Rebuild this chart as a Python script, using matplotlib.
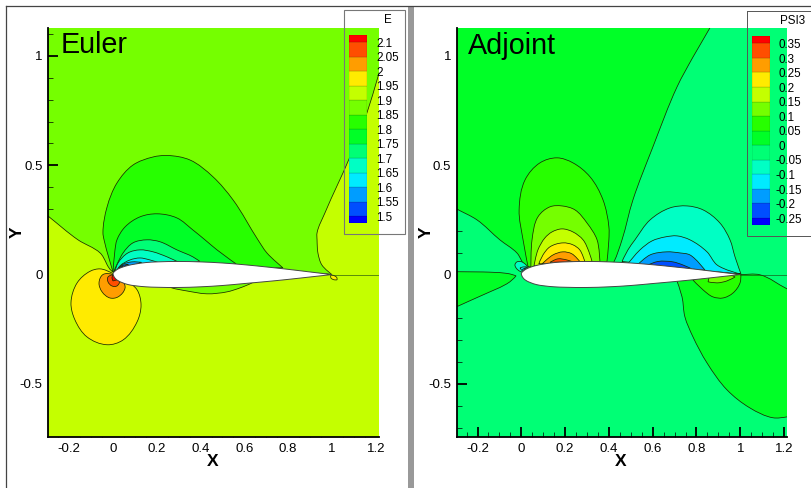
"""Euler and adjoint contour fields around an airfoil, with Tecplot-style legends."""

import matplotlib

matplotlib.use("Agg")
import matplotlib.pyplot as plt
import numpy as np
from matplotlib.colors import BoundaryNorm, ListedColormap
from matplotlib.lines import Line2D
from matplotlib.patches import PathPatch, Rectangle
from matplotlib.path import Path

plt.rcParams["font.family"] = ["Liberation Sans", "DejaVu Sans"]

W, H = 812, 488

BAND_COLORS = ["#0000ff", "#004eff", "#009dff", "#00ebff", "#00ffc4", "#00ff75", "#00ff27",
               "#27ff00", "#75ff00", "#c4ff00", "#ffeb00", "#ff9d00", "#ff4e00", "#ff0000"]

E_LEVELS = [1.5, 1.55, 1.6, 1.65, 1.7, 1.75, 1.8, 1.85, 1.9, 1.95, 2.0, 2.05, 2.1]
E_LABELS = ["1.5", "1.55", "1.6", "1.65", "1.7", "1.75", "1.8", "1.85", "1.9", "1.95", "2", "2.05", "2.1"]
PSI_LEVELS = [-0.25, -0.2, -0.15, -0.1, -0.05, 0.0, 0.05, 0.1, 0.15, 0.2, 0.25, 0.3, 0.35]
PSI_LABELS = ["-0.25", "-0.2", "-0.15", "-0.1", "-0.05", "0", "0.05", "0.1", "0.15", "0.2", "0.25", "0.3", "0.35"]

X_TICKS = [-0.2, 0, 0.2, 0.4, 0.6, 0.8, 1, 1.2]
X_TICK_LABELS = ["-0.2", "0", "0.2", "0.4", "0.6", "0.8", "1", "1.2"]
Y_TICKS = [-0.5, 0, 0.5, 1]
Y_TICK_LABELS = ["-0.5", "0", "0.5", "1"]
X_MINOR = [-0.25, -0.15, -0.1, -0.05, 0.05, 0.1, 0.15, 0.25, 0.3, 0.35, 0.45, 0.5, 0.55, 0.65,
           0.7, 0.75, 0.85, 0.9, 0.95, 1.05, 1.1, 1.15]
Y_MINOR = [-0.7, -0.6, -0.4, -0.3, -0.2, -0.1, 0.1, 0.2, 0.3, 0.4, 0.6, 0.7, 0.8, 0.9, 1.1]

AIRFOIL = [(1.0, 0.0), (0.9, 0.012), (0.8, 0.024), (0.7, 0.035), (0.6, 0.045), (0.5, 0.053), (0.4, 0.058),
           (0.3, 0.06), (0.2, 0.058), (0.15, 0.055), (0.1, 0.048), (0.07, 0.042), (0.04, 0.033), (0.02, 0.024),
           (0.008, 0.015), (0.002, 0.009), (0.0, 0.004), (0.002, -0.004), (0.008, -0.015), (0.02, -0.026),
           (0.04, -0.036), (0.07, -0.046), (0.1, -0.051), (0.15, -0.056), (0.2, -0.058), (0.3, -0.059),
           (0.4, -0.056), (0.5, -0.05), (0.6, -0.041), (0.7, -0.032), (0.8, -0.022), (0.9, -0.011)]
WAKE = [(1.0, 0.0), (1.3, 0.0)]

# Euler contours, outermost first
E_LOWER = [(-0.35, 0.31), (-0.297, 0.268), (-0.16, 0.159), (-0.059, 0.099), (0.0, 0.012), (0.1, 0.0), (0.24, -0.05),
           (0.269, -0.061), (0.338, -0.075), (0.429, -0.088), (0.521, -0.079), (0.58, -0.061), (0.635, -0.038),
           (0.7, 0.0), (1.0, 0.0), (0.954, 0.044), (0.936, 0.099), (0.932, 0.159), (0.932, 0.191), (0.968, 0.282),
           (1.082, 0.538), (1.16, 0.74), (1.21, 0.904), (1.27, 1.1), (1.35, 1.1), (1.35, -0.85), (-0.35, -0.85)]
E_UP_1 = [(0.0, 0.012), (-0.041, 0.159), (-0.046, 0.191), (-0.027, 0.31), (0.018, 0.419), (0.091, 0.501),
          (0.183, 0.538), (0.247, 0.545), (0.352, 0.524), (0.457, 0.447), (0.548, 0.342), (0.662, 0.159),
          (0.703, 0.099), (0.776, 0.031)]
E_UP_2 = [(0.0, 0.012), (0.009, 0.113), (0.018, 0.159), (0.055, 0.218), (0.123, 0.264), (0.201, 0.278),
          (0.292, 0.259), (0.365, 0.204), (0.42, 0.159), (0.475, 0.113), (0.562, 0.049)]
E_UP_3 = [(0.005, 0.017), (0.046, 0.099), (0.091, 0.145), (0.155, 0.159), (0.215, 0.15), (0.292, 0.113),
          (0.365, 0.081), (0.397, 0.06)]
E_UP_4 = [(0.009, 0.017), (0.023, 0.053), (0.068, 0.099), (0.123, 0.113), (0.183, 0.104), (0.247, 0.081),
          (0.297, 0.058)]
E_UP_5 = [(0.014, 0.012), (0.032, 0.04), (0.078, 0.067), (0.123, 0.076), (0.165, 0.068), (0.205, 0.056)]
E_UP_6 = [(0.016, 0.016), (0.04, 0.044), (0.085, 0.058), (0.13, 0.056)]
E_UP_7 = [(0.014, 0.016), (0.04, 0.04), (0.07, 0.047)]
E_UP_8 = [(0.012, 0.012), (0.03, 0.03), (0.045, 0.037)]
E_YELLOW = [(0.0, 0.005), (-0.059, 0.026), (-0.105, 0.015), (-0.164, -0.038), (-0.192, -0.129), (-0.174, -0.207),
            (-0.119, -0.285), (-0.027, -0.321), (0.046, -0.299), (0.11, -0.216), (0.128, -0.139), (0.11, -0.07),
            (0.068, -0.033)]
E_ORANGE = [(0.0, 0.0), (-0.046, 0.0), (-0.064, -0.038), (-0.05, -0.079), (-0.014, -0.107), (0.023, -0.102),
            (0.055, -0.061), (0.046, -0.033)]
E_DEEP = [(0.0, 0.0), (-0.023, -0.011), (-0.023, -0.033), (-0.005, -0.052), (0.018, -0.052), (0.032, -0.033)]
E_RED = [(0.0, 0.0), (-0.005, -0.015), (0.0, -0.029), (0.018, -0.024), (0.018, -0.01)]
E_TAIL = [(0.995, -0.003), (1.005, -0.003), (1.023, -0.015), (1.023, -0.024), (1.01, -0.024), (0.995, -0.015)]

E_REGIONS = [E_LOWER, E_UP_1, E_UP_2, E_UP_3, E_UP_4, E_UP_5, E_UP_6, E_UP_7, E_UP_8,
             E_YELLOW, E_ORANGE, E_DEEP, E_RED, E_TAIL]
E_VALUES = [1.925, 1.825, 1.775, 1.725, 1.675, 1.625, 1.575, 1.525, 1.45,
            1.975, 2.025, 2.075, 2.15, 1.975]
E_BACKGROUND = 1.875

# Adjoint contours, outermost first
P_UPPER = [(-0.35, 0.33), (-0.295, 0.3), (-0.202, 0.25), (-0.098, 0.159), (-0.02, 0.099), (0.026, 0.031), (0.1, 0.02),
           (0.4, 0.02), (0.423, 0.058), (0.46, 0.159), (0.51, 0.342), (0.601, 0.584), (0.711, 0.858), (0.784, 0.995),
           (0.861, 1.128), (0.93, 1.26), (-0.35, 1.26)]
P_UP_1 = [(0.031, 0.035), (0.008, 0.159), (-0.01, 0.296), (0.017, 0.433), (0.085, 0.511), (0.163, 0.534),
          (0.236, 0.511), (0.314, 0.447), (0.373, 0.342), (0.4, 0.218), (0.4, 0.159), (0.391, 0.058)]
P_UP_2 = [(0.044, 0.033), (0.049, 0.159), (0.076, 0.264), (0.131, 0.31), (0.186, 0.314), (0.245, 0.296),
          (0.3, 0.236), (0.346, 0.159), (0.359, 0.058)]
P_UP_3 = [(0.058, 0.04), (0.076, 0.113), (0.108, 0.168), (0.14, 0.195), (0.186, 0.209), (0.236, 0.195),
          (0.282, 0.159), (0.309, 0.104), (0.323, 0.06)]
P_UP_4 = [(0.08, 0.049), (0.099, 0.09), (0.131, 0.127), (0.19, 0.145), (0.236, 0.136), (0.267, 0.113), (0.29, 0.06)]
P_UP_5 = [(0.095, 0.049), (0.145, 0.09), (0.19, 0.104), (0.231, 0.095), (0.267, 0.06)]
P_UP_6 = [(0.131, 0.056), (0.167, 0.072), (0.208, 0.067), (0.236, 0.058)]
P_RIGHT_1 = [(0.46, 0.06), (0.487, 0.113), (0.519, 0.159), (0.588, 0.25), (0.679, 0.305), (0.757, 0.314),
             (0.83, 0.296), (0.907, 0.236), (0.953, 0.159), (0.976, 0.081), (1.003, 0.003)]
P_RIGHT_2 = [(0.487, 0.05), (0.542, 0.113), (0.597, 0.154), (0.656, 0.172), (0.711, 0.177), (0.77, 0.159),
             (0.848, 0.104), (0.894, 0.044), (0.999, 0.003)]
P_RIGHT_3 = [(0.533, 0.047), (0.588, 0.09), (0.665, 0.104), (0.725, 0.099), (0.77, 0.09), (0.839, 0.02)]
P_RIGHT_4 = [(0.578, 0.044), (0.624, 0.06), (0.693, 0.058), (0.738, 0.044), (0.779, 0.026)]
P_WEDGE = [(-0.35, 0.012), (-0.175, 0.012), (-0.052, 0.003), (-0.024, -0.006), (-0.052, -0.033), (-0.175, -0.093),
           (-0.295, -0.147), (-0.35, -0.175)]
P_LOWER = [(0.75, 0.0), (0.711, -0.03), (0.734, -0.102), (0.747, -0.193), (0.784, -0.285), (0.848, -0.404),
           (0.939, -0.527), (1.044, -0.61), (1.149, -0.655), (1.213, -0.651), (1.3, -0.63), (1.3, -0.105),
           (1.213, -0.065), (1.09, -0.001), (1.0, 0.0)]
P_TAIL_1 = [(0.9, 0.0), (0.784, -0.025), (0.83, -0.07), (0.875, -0.102), (0.921, -0.107), (0.967, -0.084),
            (0.999, -0.038), (1.003, 0.0)]
P_TAIL_2 = [(0.86, 0.0), (0.853, -0.033), (0.894, -0.038), (0.939, -0.029), (0.976, -0.011), (0.95, 0.0)]
P_NOSE_1 = [(-0.029, 0.044), (-0.02, 0.058), (0.003, 0.058), (0.031, 0.035), (0.008, 0.012), (-0.015, 0.021)]
P_NOSE_2 = [(-0.006, 0.03), (0.008, 0.035), (0.026, 0.035), (0.008, 0.012)]
P_NOSE_3 = [(0.006, 0.024), (0.02, 0.032), (0.008, 0.012)]

P_REGIONS = [P_UPPER, P_UP_1, P_UP_2, P_UP_3, P_UP_4, P_UP_5, P_UP_6, P_RIGHT_1, P_RIGHT_2, P_RIGHT_3, P_RIGHT_4,
             P_WEDGE, P_LOWER, P_TAIL_1, P_TAIL_2, P_NOSE_1, P_NOSE_2, P_NOSE_3]
P_VALUES = [0.025, 0.075, 0.125, 0.175, 0.225, 0.275, 0.325, -0.075, -0.125, -0.175, -0.225,
            0.025, 0.025, 0.075, 0.125, -0.075, -0.125, -0.175]
P_BACKGROUND = -0.025


def px_rect(x0, y0, x1, y1):
    """Axes rectangle from pixel edges, y counted from the top of the image."""
    return [x0 / W, 1 - y1 / H, (x1 - x0) / W, (y1 - y0) / H]


def smooth_path(pts):
    """Closed bezier path through the read points; sharp corners stay sharp."""
    p = np.array(pts, dtype=float)
    to_next = np.roll(p, -1, axis=0) - p
    seg = np.hypot(to_next[:, 0], to_next[:, 1])
    u_next = to_next / seg[:, None]
    u_prev = np.roll(u_next, 1, axis=0)
    tangent = u_prev + u_next
    tangent /= np.maximum(np.hypot(tangent[:, 0], tangent[:, 1]), 1e-9)[:, None]
    tangent[(u_prev * u_next).sum(axis=1) < 0.4] = 0.0

    verts, codes = [p[0]], [Path.MOVETO]
    for i in range(len(p)):
        j = (i + 1) % len(p)
        verts += [p[i] + tangent[i] * seg[i] / 3, p[j] - tangent[j] * seg[i] / 3, p[j]]
        codes += [Path.CURVE4] * 3
    return Path(verts, codes)


def draw_field(fig, rect, xlim, regions, values, background, levels):
    norm = BoundaryNorm(levels, len(BAND_COLORS), extend="both")
    cmap = ListedColormap(BAND_COLORS)
    ax = fig.add_axes(rect)
    ax.set_xlim(*xlim); ax.set_ylim(-0.743, 1.128)
    ax.set_facecolor(cmap(norm(background)))
    for pts, value in zip(regions, values):
        ax.add_patch(PathPatch(smooth_path(pts), facecolor=cmap(norm(value)), edgecolor="#1a2a00", lw=0.55, zorder=2))
    ax.plot(*zip(*WAKE), color="#1a4a10", lw=0.55, alpha=0.8, zorder=3)
    ax.add_patch(PathPatch(smooth_path(AIRFOIL), facecolor="white", edgecolor="#444444", lw=0.7, zorder=4))

    for side in ("top", "right"):
        ax.spines[side].set_visible(False)
    for side in ("left", "bottom"):
        ax.spines[side].set_linewidth(1.3)
        ax.spines[side].set_zorder(6)
    ax.set_xticks(X_TICKS, labels=X_TICK_LABELS)
    ax.set_yticks(Y_TICKS, labels=Y_TICK_LABELS)
    ax.set_xticks(X_MINOR, minor=True); ax.set_yticks(Y_MINOR, minor=True)
    ax.tick_params(which="major", direction="in", length=7, width=1.3, labelsize=9.5, pad=4, zorder=6)
    ax.tick_params(which="minor", direction="in", length=3.6, width=0.5, zorder=6)
    return ax


def draw_legend(fig, rect, levels, labels, title, title_x, title_y, label_frac, overlay):
    norm = BoundaryNorm(levels, len(BAND_COLORS), extend="both")
    cmap = ListedColormap(BAND_COLORS)
    ax = fig.add_axes(rect, facecolor="none")
    cap = 0.025
    edges = [levels[0] - cap] + list(levels) + [levels[-1] + cap]
    for lo, hi in zip(edges[:-1], edges[1:]):
        ax.bar(0.5, hi - lo, bottom=lo, width=1.0, color=cmap(norm((lo + hi) / 2)),
               edgecolor=(0, 0, 0, 0.3), lw=0.3)
    ax.set_xlim(0, 1); ax.set_ylim(edges[0], edges[-1])
    ax.axis("off")
    for lev, lab in zip(levels, labels):
        shift = -2.6 if lab.startswith("-") else 0
        ax.annotate(lab, (label_frac, lev), xycoords=("axes fraction", "data"), xytext=(shift, -1.2),
                    textcoords="offset points", va="center", ha="left", fontsize=8.4, annotation_clip=False)
    overlay.text(title_x, title_y, title, fontsize=8.4, ha="center", va="center")


def main():
    fig = plt.figure(figsize=(W / 100, H / 100), dpi=100, facecolor="white")

    draw_field(fig, px_rect(48, 28, 379, 437), (-0.297, 1.215), E_REGIONS, E_VALUES, E_BACKGROUND, E_LEVELS)
    draw_field(fig, px_rect(456.7, 28, 786.7, 437), (-0.295, 1.212), P_REGIONS, P_VALUES, P_BACKGROUND, PSI_LEVELS)

    # pixel-space layer for the window frames and free text
    overlay = fig.add_axes([0, 0, 1, 1], facecolor="none", zorder=5)
    overlay.set_xlim(0, W); overlay.set_ylim(H, 0); overlay.axis("off")
    overlay.add_patch(Rectangle((408, 6), 6.5, H - 6, facecolor="#999999", edgecolor="none"))
    overlay.add_line(Line2D([6.3, 6.3], [6, H], color="#444444", lw=0.9))
    overlay.add_line(Line2D([6.3, W], [6, 6], color="#444444", lw=0.9))
    overlay.add_patch(Rectangle((344, 10), 61.5, 224, facecolor="none", edgecolor="#777777", lw=0.8))
    overlay.add_patch(Rectangle((746.7, 10.7), 70, 225.3, facecolor="none", edgecolor="#555555", lw=0.7))

    overlay.text(61, 52.7, "Euler", fontsize=20.7, ha="left", va="baseline")
    overlay.text(467.5, 54.5, "Adjoint", fontsize=20.7, ha="left", va="baseline")
    for x in (213, 621):
        overlay.text(x, 462, "X", fontsize=12.5, fontweight="bold", ha="center", va="center")
    for x in (17, 426):
        overlay.text(x, 232, "Y", fontsize=12.5, fontweight="bold", ha="center", va="center", rotation=90)

    draw_legend(fig, px_rect(349, 35, 367, 223.3), E_LEVELS, E_LABELS, "E", 388, 20, 1.5, overlay)
    draw_legend(fig, px_rect(752, 36, 770, 225.3), PSI_LEVELS, PSI_LABELS, "PSI3", 793, 21, 1.5, overlay)

    fig.savefig("out.png", dpi=100)


main()
